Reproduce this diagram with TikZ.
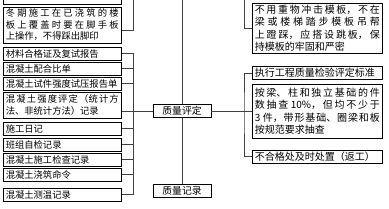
\documentclass[tikz,border=0pt]{standalone}
\usepackage{fontspec}
\newfontfamily\cjk{Noto Sans CJK SC}
\XeTeXlinebreaklocale "zh"
\XeTeXlinebreakskip=0pt plus 6pt
\setlength{\parindent}{0pt}

\begin{document}
\begin{tikzpicture}[x=1pt, y=1pt,
    box/.style={draw, line width=0.6pt, fill=white,
                font=\cjk\fontsize{9.3}{11.5}\selectfont,
                text width=113pt, align=justify, inner xsep=2.5pt,
                inner ysep=1pt, minimum height=13pt, anchor=west},
    rbox/.style={box, text width=125pt,
                 font=\cjk\fontsize{10}{12.5}\selectfont},
    cbox/.style={draw, line width=0.6pt, fill=white,
                 font=\cjk\fontsize{9.8}{11.5}\selectfont,
                 minimum width=58pt, minimum height=13pt, inner sep=1pt},
    conn/.style={line width=0.5pt, black!75},
  ]
    \useasboundingbox (0,0) rectangle (389,-209);
    \clip (0,0) rectangle (389,-209);

    % left column
    \node[box, anchor=south west, minimum height=20pt] (prev) at (3,-5) {};
    \node[box, minimum height=36pt] (winter) at (3,-25)
      {冬期施工在已浇筑的楼\linebreak 板上覆盖时要在脚手板\linebreak 上操作，不得踩出脚印};
    \node[box] (cert)     at (3,-53.5)  {材料合格证及复试报告};
    \node[box] (mix)      at (3,-68.5)  {混凝土配合比单};
    \node[box] (specimen) at (3,-83.5)  {混凝土试件强度试压报告单};
    \node[box, minimum height=26pt] (strength) at (3,-105)
      {混凝土强度评定（统计方\linebreak 法、非统计方法）记录};
    \node[box] (diary)    at (3,-128.5) {施工日记};
    \node[box] (selfchk)  at (3,-144.5) {班组自检记录};
    \node[box] (inspect)  at (3,-159.5) {混凝土施工检查记录};
    \node[box] (pour)     at (3,-174.5) {混凝土浇筑命令};
    \node[box] (temp)     at (3,-194.5) {混凝土测温记录};

    % middle
    \node[cbox] (eval)   at (182,-111)   {质量评定};
    \node[cbox] (record) at (182,-190.5) {质量记录};

    % right column
    \node[rbox, minimum height=50pt] (formwork) at (252,-28)
      {不用重物冲击模板，不在\linebreak 梁或楼梯踏步模板吊帮\linebreak 上蹬踩，应搭设跳板，保\linebreak 持模板的牢固和严密};
    \node[rbox] (std) at (252,-73) {执行工程质量检验评定标准};
    \node[rbox, minimum height=54pt] (sample) at (252,-111)
      {按梁、柱和独立基础的件\linebreak 数抽查 10\%，但均不少于\linebreak 3 件，带形基础、圈梁和板\linebreak 按规范要求抽查};
    \node[rbox] (rework) at (252,-156.5) {不合格处及时处置（返工）};

    \coordinate (ltop) at (133.5,0);
    \coordinate (ctop) at (182,0);
    \coordinate (rtop) at (244,0);
    \coordinate (lbar) at (133.5,-111);
    \coordinate (rbar) at (244,-111);

    % connectors
    \draw[conn] (ltop) |- ([yshift=-5pt]winter.east);
    \draw[conn] (cert.east) -| (lbar) |- (temp.east);
    \foreach \n in {mix,specimen,diary,selfchk,inspect,pour}
      \draw[conn] (\n.east) -- (\n.east -| lbar);
    \draw[conn] (strength.east |- eval.west) -- (eval.west);
    \draw[conn] (ctop) -- (eval.north);
    \draw[conn] (eval.south) -- (record.north);
    \draw[conn] (eval.east) -- (sample.west);
    \draw[conn] (rtop) |- (formwork.west);
    \draw[conn] (std.west) -| (rbar) |- (rework.west);
\end{tikzpicture}
\end{document}
